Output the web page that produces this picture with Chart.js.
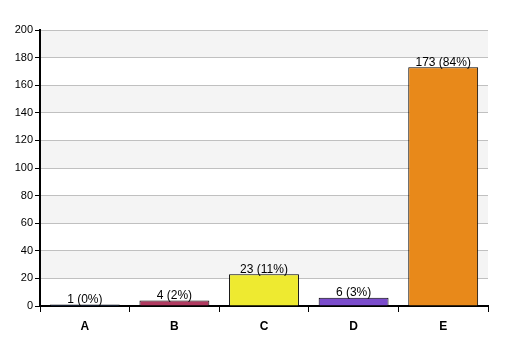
<!DOCTYPE html>
<html><head><meta charset="utf-8">
<script src="https://cdn.jsdelivr.net/npm/chart.js@4"></script>
<style>html,body{margin:0;padding:0;background:#fff}#wrap{width:507px;height:356px}</style>
</head><body><div id="wrap"><canvas id="c" width="507" height="356"></canvas></div>
<script>
const categories = ["A", "B", "C", "D", "E"];
const counts = [1, 4, 23, 6, 173];
const percents = ["0%", "2%", "11%", "3%", "84%"];
const barColors = ["#4a6fb8", "#b03a60", "#eeea30", "#7b4ccc", "#e8891a"];
const yTicks = [0, 20, 40, 60, 80, 100, 120, 140, 160, 180, 200];

const bandPlugin = {
  id: 'bands',
  beforeDraw(chart) {
    const {ctx, chartArea, scales} = chart;
    const y = scales.y;
    ctx.save();
    ctx.fillStyle = '#f4f4f4';
    for (let i = 1; i < yTicks.length - 1; i += 2) {
      const top = y.getPixelForValue(yTicks[i + 1]);
      const bot = y.getPixelForValue(yTicks[i]);
      ctx.fillRect(chartArea.left, top, chartArea.right - chartArea.left, bot - top);
    }
    ctx.restore();
  }
};
const labelPlugin = {
  id: 'vlabels',
  afterDatasetsDraw(chart) {
    const {ctx} = chart;
    const meta = chart.getDatasetMeta(0);
    ctx.save();
    ctx.font = '12px Arial, "Liberation Sans", sans-serif';
    ctx.fillStyle = '#000';
    ctx.textAlign = 'center';
    ctx.textBaseline = 'bottom';
    meta.data.forEach((bar, i) => {
      ctx.fillText(counts[i] + ' (' + percents[i] + ')', bar.x, Math.min(bar.y, chart.chartArea.bottom - 1) + 1);
    });
    ctx.restore();
  }
};

new Chart(document.getElementById('c'), {
  type: 'bar',
  data: {
    labels: categories,
    datasets: [{
      data: counts,
      backgroundColor: barColors,
      borderColor: '#000',
      borderWidth: 1,
      barPercentage: 0.78,
      categoryPercentage: 1
    }]
  },
  options: {
    responsive: false,
    animation: false,
    devicePixelRatio: 1,
    layout: {padding: {top: 30, right: 19, left: 0, bottom: 0}},
    plugins: {legend: {display: false}, tooltip: {enabled: false}},
    scales: {
      x: {
        grid: {drawOnChartArea: false, drawTicks: true, tickLength: 6, color: '#000', offset: true},
        border: {color: '#000', width: 2},
        ticks: {color: '#000', font: {family: 'Arial, "Liberation Sans", sans-serif', size: 12, weight: 'bold'}, padding: 7},
        afterFit(s) { s.height = 50; }
      },
      y: {
        min: 0, max: 200,
        afterBuildTicks(s) { s.ticks = yTicks.map(v => ({value: v})); },
        grid: {color: '#c0c0c0', drawTicks: true, tickLength: 5, tickColor: '#000'},
        border: {color: '#000', width: 2},
        ticks: {color: '#000', font: {family: 'Arial, "Liberation Sans", sans-serif', size: 11}, padding: 2},
        afterFit(s) { s.width = 40; }
      }
    }
  },
  plugins: [bandPlugin, labelPlugin]
});
</script></body></html>
